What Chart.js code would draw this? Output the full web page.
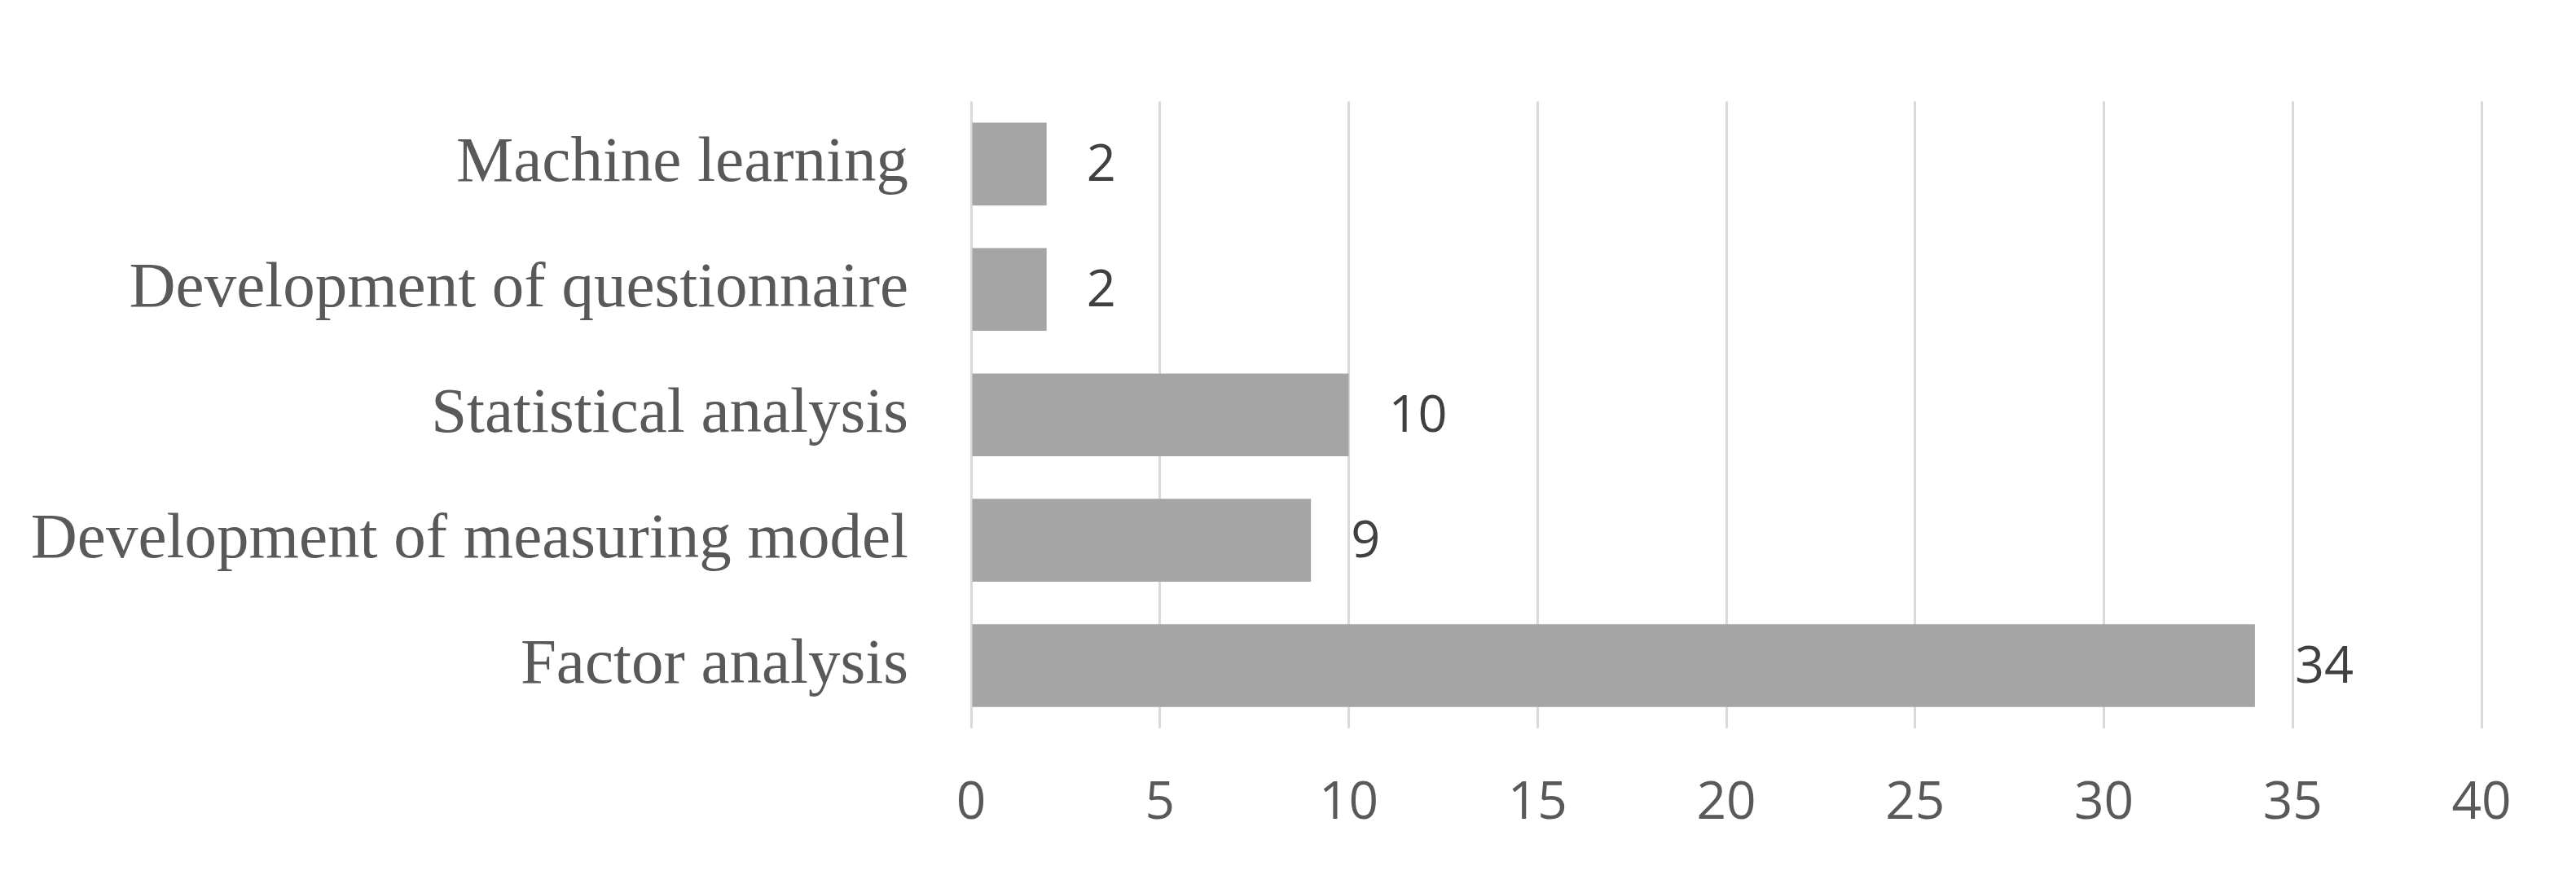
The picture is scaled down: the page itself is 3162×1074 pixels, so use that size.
<!DOCTYPE html>
<html>
<head>
<meta charset="utf-8">
<script src="https://cdn.jsdelivr.net/npm/chart.js@4/dist/chart.umd.min.js"></script>
<style>
  html, body { margin: 0; padding: 0; background: #fff; }
  #wrap { width: 3162px; height: 1074px; }
</style>
</head>
<body>
<div id="wrap"><canvas id="graph" width="3162" height="1074"></canvas></div>
<script>
// data
const categories = [
    "Machine learning",
    "Development of questionnaire",
    "Statistical analysis",
    "Development of measuring model",
    "Factor analysis"
];
const counts = [2, 2, 10, 9, 34];
const xTicks = [0, 5, 10, 15, 20, 25, 30, 35, 40];

// little plugin to write the value after each bar
const valueLabels = {
    id: 'valueLabels',
    afterDatasetsDraw(chart) {
        const ctx = chart.ctx;
        const meta = chart.getDatasetMeta(0);
        ctx.save();
        ctx.font = '63px "Open Sans"';
        ctx.fillStyle = '#404040';
        ctx.textAlign = 'left';
        ctx.textBaseline = 'middle';
        meta.data.forEach((bar, i) => {
            ctx.fillText(String(counts[i]), bar.x + 49, bar.y + 3);
        });
        ctx.restore();
    }
};

const ctx = document.getElementById('graph').getContext('2d');
const myChart = new Chart(ctx, {
    type: 'bar',
    data: {
        labels: categories,
        datasets: [{
            data: counts,
            backgroundColor: '#a5a5a5',
            borderWidth: 0,
            barPercentage: 0.66,
            categoryPercentage: 1
        }]
    },
    options: {
        indexAxis: 'y',
        responsive: false,
        animation: false,
        layout: { padding: { top: 44, right: 116, bottom: 0, left: 0 } },
        plugins: {
            legend: { display: false },
            tooltip: { enabled: false }
        },
        scales: {
            x: {
                min: 0,
                max: 40,
                afterBuildTicks: scale => { scale.ticks = xTicks.map(v => ({ value: v })); },
                afterFit: scale => { scale.height = 180; },
                grid: { color: '#d9d9d9', lineWidth: 3, drawTicks: false },
                border: { display: false },
                ticks: {
                    padding: 54,
                    color: '#595959',
                    font: { family: 'Open Sans', size: 64 }
                }
            },
            y: {
                afterFit: scale => { scale.width = 1192; },
                grid: { display: false, drawTicks: false },
                border: { display: false },
                ticks: {
                    padding: 77,
                    color: '#595959',
                    font: { family: 'Liberation Serif', size: 79 }
                }
            }
        }
    },
    plugins: [valueLabels]
});
</script>
</body>
</html>
